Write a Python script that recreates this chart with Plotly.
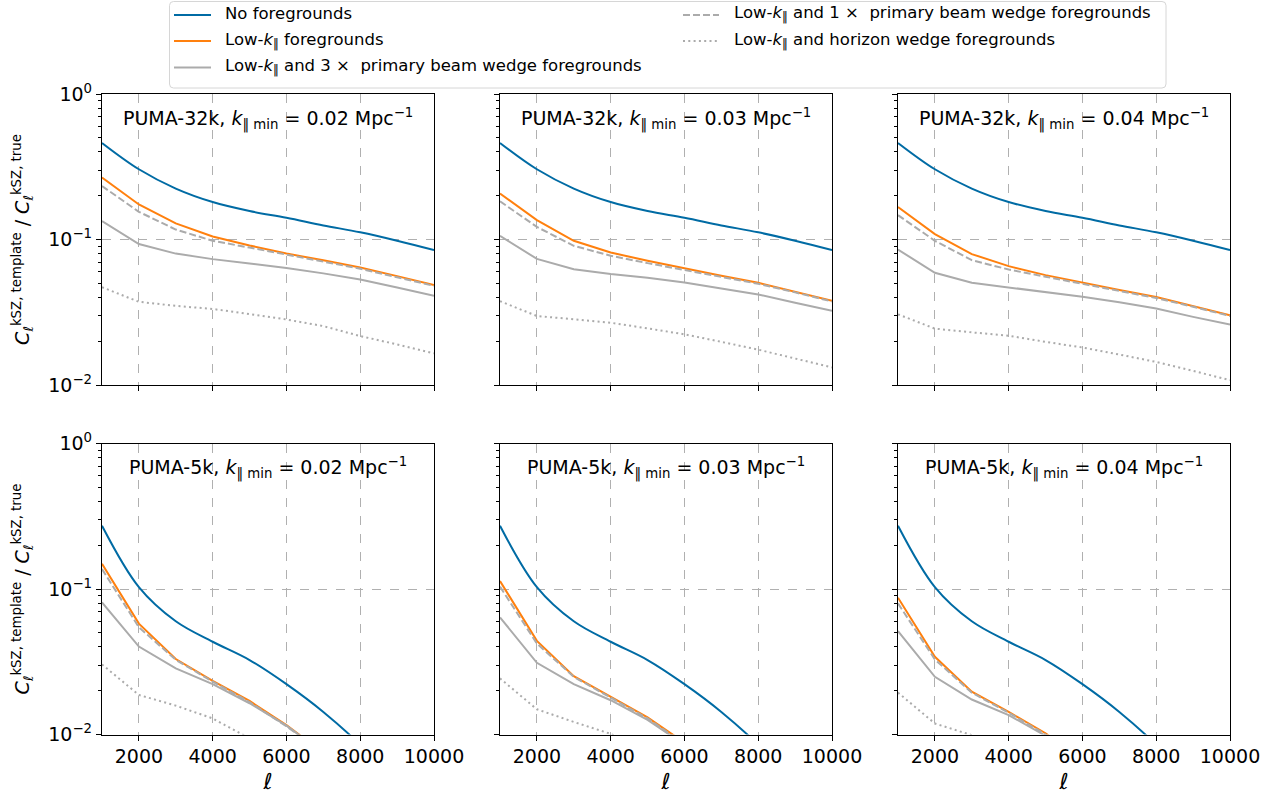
import plotly.graph_objects as go

# ---------------- data ----------------
ell = [1000, 2000, 3000, 4000, 5000, 6000, 7000, 8000, 9000, 10000]

panel_titles = [
    "PUMA-32k, <i>k</i><sub>‖ min</sub> = 0.02 Mpc<sup>−1</sup>",
    "PUMA-32k, <i>k</i><sub>‖ min</sub> = 0.03 Mpc<sup>−1</sup>",
    "PUMA-32k, <i>k</i><sub>‖ min</sub> = 0.04 Mpc<sup>−1</sup>",
    "PUMA-5k, <i>k</i><sub>‖ min</sub> = 0.02 Mpc<sup>−1</sup>",
    "PUMA-5k, <i>k</i><sub>‖ min</sub> = 0.03 Mpc<sup>−1</sup>",
    "PUMA-5k, <i>k</i><sub>‖ min</sub> = 0.04 Mpc<sup>−1</sup>",
]

series_names = [
    "No foregrounds",
    "Low-<i>k</i><sub>‖</sub> foregrounds",
    "Low-<i>k</i><sub>‖</sub> and 3 ×  primary beam wedge foregrounds",
    "Low-<i>k</i><sub>‖</sub> and 1 ×  primary beam wedge foregrounds",
    "Low-<i>k</i><sub>‖</sub> and horizon wedge foregrounds",
]

# PUMA-32k
nofg_32k = [0.461, 0.304, 0.224, 0.181, 0.157, 0.141, 0.125, 0.112, 0.098, 0.0845]

lowk_32k_002 = [0.267, 0.174, 0.129, 0.105, 0.091, 0.080, 0.072, 0.0643, 0.056, 0.0486]
w3_32k_002 = [0.134, 0.093, 0.080, 0.0733, 0.0684, 0.0638, 0.0585, 0.0531, 0.0468, 0.041]
w1_32k_002 = [0.233, 0.155, 0.117, 0.098, 0.088, 0.079, 0.071, 0.063, 0.055, 0.048]
hz_32k_002 = [0.047, 0.0373, 0.035, 0.0333, 0.0307, 0.0282, 0.0254, 0.0217, 0.019, 0.0165]

lowk_32k_003 = [0.207, 0.136, 0.098, 0.0814, 0.0714, 0.0632, 0.0563, 0.0504, 0.0437, 0.0379]
w3_32k_003 = [0.106, 0.0736, 0.0625, 0.058, 0.0546, 0.0507, 0.0461, 0.0419, 0.0367, 0.0324]
w1_32k_003 = [0.183, 0.122, 0.0905, 0.0773, 0.0688, 0.0615, 0.0553, 0.0496, 0.0433, 0.0375]
hz_32k_003 = [0.0377, 0.0298, 0.0283, 0.0268, 0.0245, 0.0223, 0.0198, 0.0175, 0.0152, 0.0132]

lowk_32k_004 = [0.167, 0.109, 0.0794, 0.0656, 0.0569, 0.0504, 0.0449, 0.0402, 0.0349, 0.0301]
w3_32k_004 = [0.0853, 0.059, 0.0504, 0.0468, 0.0437, 0.0404, 0.037, 0.0336, 0.0294, 0.026]
w1_32k_004 = [0.147, 0.098, 0.0721, 0.0622, 0.0555, 0.0494, 0.0442, 0.0396, 0.0345, 0.0298]
hz_32k_004 = [0.0306, 0.0244, 0.023, 0.0218, 0.0198, 0.0181, 0.0162, 0.0144, 0.0125, 0.0108]

# PUMA-5k
nofg_5k = [0.272, 0.103, 0.060, 0.0434, 0.0325, 0.0222, 0.0143, 0.0085, 0.0046, 0.0023]

lowk_5k_002 = [0.149, 0.0578, 0.033, 0.0234, 0.017, 0.0116, 0.0075, 0.0048, 0.0030, 0.0019]
w3_5k_002 = [0.081, 0.0402, 0.0285, 0.0222, 0.0164, 0.0115, 0.0075, 0.0048, 0.0030, 0.0019]
w1_5k_002 = [0.137, 0.0546, 0.0326, 0.0231, 0.0167, 0.0114, 0.0074, 0.0047, 0.0030, 0.0019]
hz_5k_002 = [0.0303, 0.0187, 0.0158, 0.0129, 0.0094, 0.0072, 0.0052, 0.0036, 0.0025, 0.0017]

lowk_5k_003 = [0.1135, 0.044, 0.0252, 0.0182, 0.0131, 0.0088, 0.0057, 0.0036, 0.0023, 0.0015]
w3_5k_003 = [0.0638, 0.0311, 0.0222, 0.0172, 0.0126, 0.0085, 0.0055, 0.0035, 0.0022, 0.0014]
w1_5k_003 = [0.1038, 0.0422, 0.0249, 0.0179, 0.0129, 0.0086, 0.0056, 0.0036, 0.0023, 0.0015]
hz_5k_003 = [0.0243, 0.0149, 0.0122, 0.0101, 0.0076, 0.0056, 0.0040, 0.0028, 0.0019, 0.0013]

lowk_5k_004 = [0.0871, 0.0342, 0.0197, 0.0143, 0.0102, 0.0068, 0.0044, 0.0028, 0.0018, 0.0012]
w3_5k_004 = [0.0514, 0.0249, 0.0174, 0.0136, 0.0098, 0.0066, 0.0043, 0.0027, 0.0018, 0.0012]
w1_5k_004 = [0.0796, 0.0328, 0.0194, 0.0141, 0.0100, 0.0067, 0.0043, 0.0027, 0.0018, 0.0012]
hz_5k_004 = [0.0194, 0.0119, 0.0099, 0.0085, 0.0064, 0.0047, 0.0034, 0.0024, 0.0016, 0.0011]

x_tickvals = [2000, 4000, 6000, 8000, 10000]
x_ticktext = ["2000", "4000", "6000", "8000", "10000"]
y_tickvals = [0.01, 0.1, 1]
y_ticktext = ["10<sup>−2</sup>", "10<sup>−1</sup>", "10<sup>0</sup>"]

panels = [
    (nofg_32k, lowk_32k_002, w3_32k_002, w1_32k_002, hz_32k_002),
    (nofg_32k, lowk_32k_003, w3_32k_003, w1_32k_003, hz_32k_003),
    (nofg_32k, lowk_32k_004, w3_32k_004, w1_32k_004, hz_32k_004),
    (nofg_5k, lowk_5k_002, w3_5k_002, w1_5k_002, hz_5k_002),
    (nofg_5k, lowk_5k_003, w3_5k_003, w1_5k_003, hz_5k_003),
    (nofg_5k, lowk_5k_004, w3_5k_004, w1_5k_004, hz_5k_004),
]

# ---------------- styling ----------------
W, H = 1288, 797
BLUE, ORANGE, GRAY = "#006BA4", "#FF800E", "#ABABAB"
DASH, DOT = "7px,3px", "2px,3.3px"
styles = [
    dict(color=BLUE, dash="solid", shape="spline"),
    dict(color=ORANGE, dash="solid", shape="linear"),
    dict(color=GRAY, dash="solid", shape="linear"),
    dict(color=GRAY, dash=DASH, shape="linear"),
    dict(color=GRAY, dash=DOT, shape="linear"),
]

col_px = [(102, 434), (500, 832), (898, 1230)]
row_px = [(94, 385), (443.5, 734.5)]
FONT = "DejaVu Sans"

fig = go.Figure()
layout = {}
annotations = []
shapes = []
minor_vals = [m * 10.0 ** e for e in (-2, -1) for m in range(2, 10)]

for i, data in enumerate(panels):
    r, c = divmod(i, 3)
    idx = i + 1
    xa = "x" if idx == 1 else f"x{idx}"
    ya = "y" if idx == 1 else f"y{idx}"
    for k, (vals, st) in enumerate(zip(data, styles)):
        fig.add_trace(go.Scatter(
            x=ell, y=vals, mode="lines",
            line=dict(color=st["color"], width=2, dash=st["dash"], shape=st["shape"]),
            name=series_names[k], showlegend=False,
            xaxis=xa, yaxis=ya, hoverinfo="skip",
        ))
    x0, x1 = col_px[c]
    y0, y1 = row_px[r]
    xkey = "xaxis" if idx == 1 else f"xaxis{idx}"
    ykey = "yaxis" if idx == 1 else f"yaxis{idx}"
    layout[xkey] = dict(
        domain=[x0 / W, x1 / W], anchor=ya, range=[1000, 10000],
        tickmode="array", tickvals=x_tickvals, ticktext=x_ticktext,
        showticklabels=(r == 1), ticks="outside", ticklen=5, tickwidth=1,
        tickcolor="black", showline=True, linecolor="black", linewidth=1.3,
        mirror=True, showgrid=True, gridcolor="#b0b0b0", griddash="dash",
        gridwidth=1, zeroline=False, automargin=False,
        tickfont=dict(family=FONT, size=19, color="black"),
        title=dict(text="<i>ℓ</i>" if r == 1 else "", standoff=7,
                   font=dict(family=FONT, size=22, color="black")),
    )
    layout[ykey] = dict(
        domain=[1 - y1 / H, 1 - y0 / H], anchor=xa, type="log", range=[-2, 0],
        tickmode="array", tickvals=y_tickvals, ticktext=y_ticktext,
        showticklabels=(c == 0), ticks="outside", ticklen=5, tickwidth=1,
        tickcolor="black", showline=True, linecolor="black", linewidth=1.3,
        mirror=True, showgrid=True, gridcolor="#b0b0b0", griddash="dash",
        gridwidth=1, zeroline=False, automargin=False,
        minor=dict(tickmode="array", tickvals=minor_vals, ticks="outside",
                   ticklen=3, tickcolor="black", showgrid=False),
        tickfont=dict(family=FONT, size=19, color="black"),
        title=dict(
            text=("<i>C</i><sub>ℓ</sub><sup>kSZ, template</sup> / "
                  "<i>C</i><sub>ℓ</sub><sup>kSZ, true</sup>") if c == 0 else "",
            standoff=13, font=dict(family=FONT, size=19, color="black")),
    )
    annotations.append(dict(
        text=panel_titles[i], xref=f"{xa} domain", yref=f"{ya} domain",
        x=0.5, y=1, xanchor="center", yanchor="top", yshift=-9,
        showarrow=False, font=dict(family=FONT, size=19, color="black"),
    ))

# ---------------- legend (two columns, column-major like the original) ----------------
def px_x(v):
    return v / W


def px_y(v):
    return 1 - v / H


box_l, box_r, box_t, box_b, rad = 169.5, 1166, 1.5, 88, 4
path = (f"M {px_x(box_l + rad)},{px_y(box_t)} L {px_x(box_r - rad)},{px_y(box_t)} "
        f"Q {px_x(box_r)},{px_y(box_t)} {px_x(box_r)},{px_y(box_t + rad)} "
        f"L {px_x(box_r)},{px_y(box_b - rad)} "
        f"Q {px_x(box_r)},{px_y(box_b)} {px_x(box_r - rad)},{px_y(box_b)} "
        f"L {px_x(box_l + rad)},{px_y(box_b)} "
        f"Q {px_x(box_l)},{px_y(box_b)} {px_x(box_l)},{px_y(box_b - rad)} "
        f"L {px_x(box_l)},{px_y(box_t + rad)} "
        f"Q {px_x(box_l)},{px_y(box_t)} {px_x(box_l + rad)},{px_y(box_t)} Z")
shapes.append(dict(type="path", path=path, xref="paper", yref="paper",
                   line=dict(color="#d6d6d6", width=1), fillcolor="white", layer="above"))

legend_cols = [(174, 211, 223), (683, 719, 732)]
legend_rows = [15, 41, 67.5]
legend_pos = [(0, 0), (0, 1), (0, 2), (1, 0), (1, 1)]
for k, (ci, ri) in enumerate(legend_pos):
    hx0, hx1, tx = legend_cols[ci]
    yy = legend_rows[ri]
    st = styles[k]
    shapes.append(dict(type="line", xref="paper", yref="paper",
                       x0=px_x(hx0), x1=px_x(hx1), y0=px_y(yy), y1=px_y(yy),
                       line=dict(color=st["color"], width=2, dash=st["dash"]),
                       layer="above"))
    annotations.append(dict(
        text=series_names[k], xref="paper", yref="paper",
        x=px_x(tx), y=px_y(yy), xanchor="left", yanchor="middle", yshift=1,
        showarrow=False, font=dict(family=FONT, size=16.5, color="black"),
    ))

fig.update_layout(
    width=W, height=H,
    margin=dict(l=0, r=0, t=0, b=0),
    paper_bgcolor="white", plot_bgcolor="white",
    font=dict(family=FONT, color="black"),
    annotations=annotations,
    shapes=shapes,
    showlegend=False,
    **layout,
)

fig.write_html("out.html", config={"displayModeBar": False},
               post_script="document.body.style.margin='0px';")
